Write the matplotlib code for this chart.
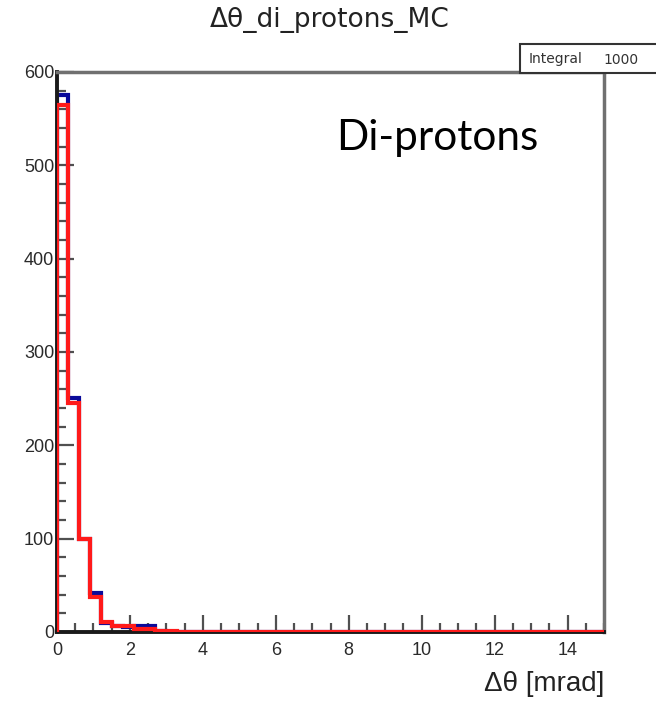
import numpy as np
import matplotlib
matplotlib.use("Agg")
import matplotlib.pyplot as plt
from matplotlib.ticker import MultipleLocator
from matplotlib.patches import Rectangle

# Data
bin_edges = [round(0.3 * i, 1) for i in range(51)]
counts_blue = [575, 251, 100, 42, 10, 6, 5, 6, 6, 1, 0, 0, 0, 0, 0, 0, 0, 0, 0, 0,
               0, 0, 0, 0, 0, 0, 0, 0, 0, 0, 0, 0, 0, 0, 0, 0, 0, 0, 0, 0,
               0, 0, 0, 0, 0, 0, 0, 0, 0, 0]
counts_red = [565, 245, 100, 37, 11, 6, 6, 3, 3, 1, 1, 0, 0, 0, 0, 0, 0, 0, 0, 0,
              0, 0, 0, 0, 0, 0, 0, 0, 0, 0, 0, 0, 0, 0, 0, 0, 0, 0, 0, 0,
              0, 0, 0, 0, 0, 0, 0, 0, 0, 0]
title = "Δθ_di_protons_MC"
xlabel = "Δθ [mrad]"
annotation = "Di-protons"
stats_label = "Integral"
stats_value = "1000"

fig = plt.figure(figsize=(6.56, 7.04), dpi=100)
ax = fig.add_axes([57/656, 1 - 632/704, (604 - 57)/656, (632 - 72)/704])

ax.stairs(counts_blue, bin_edges, color="#0a0a9a", lw=3.0, zorder=2)
ax.stairs(counts_red, bin_edges, color="#ff1a1a", lw=3.0, zorder=3)

ax.set_xlim(0, 15)
ax.set_ylim(0, 600)
ax.xaxis.set_major_locator(MultipleLocator(2))
ax.xaxis.set_minor_locator(MultipleLocator(0.5))
ax.yaxis.set_major_locator(MultipleLocator(100))
ax.yaxis.set_minor_locator(MultipleLocator(20))

ax.tick_params(axis="both", which="major", direction="in", length=12, width=1.6,
               color="#505050", labelsize=13, labelcolor="#2a2a2a")
ax.tick_params(axis="x", which="major", pad=7)
ax.tick_params(axis="y", which="major", pad=2)
ax.tick_params(axis="both", which="minor", direction="in", length=6.5, width=1.6,
               color="#505050")
for lab in ax.get_xticklabels() + ax.get_yticklabels():
    lab.set_fontfamily("Liberation Sans")

ax.spines["left"].set_color("#1a1a1a")
ax.spines["left"].set_linewidth(2.8)
ax.spines["bottom"].set_color("#1a1a1a")
ax.spines["bottom"].set_linewidth(2.8)
ax.spines["top"].set_color("#707070")
ax.spines["top"].set_linewidth(2.5)
ax.spines["right"].set_color("#707070")
ax.spines["right"].set_linewidth(2.5)

fig.text(330/656, 1 - 20/704, title, ha="center", va="center",
         fontsize=19, family="DejaVu Sans", color="#222222")
fig.text(604/656, 1 - 684/704, xlabel, ha="right", va="center",
         fontsize=20, family="Liberation Sans", color="#222222")
ax.text(0.6956, (632 - 150) / 560, annotation, transform=ax.transAxes,
        ha="center", va="baseline", fontsize=30.5, family="Lato", color="black")

# Stats box
box = Rectangle((520/656, 1 - 73/704), 150/656, 29/704, transform=fig.transFigure,
                facecolor="white", edgecolor="#333333", lw=1.5, zorder=10,
                clip_on=False)
fig.add_artist(box)
fig.text(529/656, 1 - 59/704, stats_label, ha="left", va="center", fontsize=10,
         family="DejaVu Sans", color="#333333", zorder=11)
fig.text(603/656, 1 - 60/704, stats_value, ha="left", va="center", fontsize=10,
         family="DejaVu Sans", color="#333333", zorder=11)

fig.savefig("out.png", dpi=100)
